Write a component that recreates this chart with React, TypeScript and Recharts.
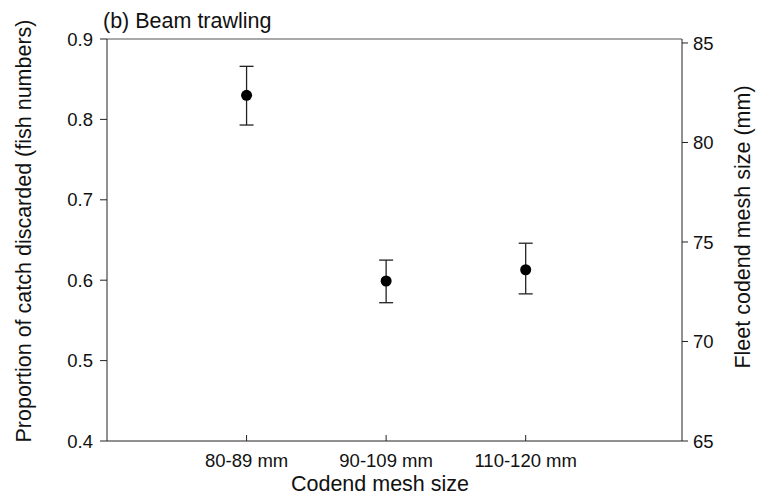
import React from 'react';
import {
  ComposedChart,
  Scatter,
  XAxis,
  YAxis,
  ErrorBar,
  ReferenceLine,
  Label,
} from 'recharts';

const categories = ['80-89 mm', '90-109 mm', '110-120 mm'];
const proportionDiscarded = [0.83, 0.599, 0.613];
const errorLow = [0.037, 0.027, 0.03];
const errorHigh = [0.036, 0.026, 0.033];
const leftTicks = [0.4, 0.5, 0.6, 0.7, 0.8, 0.9];
const rightTicks = [65, 70, 75, 80, 85];

const data = categories.map((c, i) => ({
  x: i + 1,
  name: c,
  y: proportionDiscarded[i],
  err: [errorLow[i], errorHigh[i]],
}));

const FONT = '"Liberation Sans", Arial, sans-serif';
const AXIS = '#222';

const XTick = (props: any) => {
  const { x, y, payload } = props;
  const label = categories[Math.round(payload.value) - 1] ?? '';
  return (
    <g>
      <line x1={x} x2={x} y1={y} y2={y - 6} stroke={AXIS} strokeWidth={1} />
      <text x={x} y={y + 26} textAnchor="middle" fontSize={18.5} fontFamily={FONT} fill="#111">
        {label}
      </text>
    </g>
  );
};

const Dot = (props: any) => {
  const { cx, cy } = props;
  return <circle cx={cx} cy={cy} r={5.5} fill="#000" />;
};

const LeftLabel = (p: any) => {
  const vb = p.viewBox;
  const x = vb.x + 24;
  const y = vb.y + vb.height / 2 - 9;
  return (
    <text x={x} y={y} transform={`rotate(-90 ${x} ${y})`} textAnchor="middle" dominantBaseline="central" fontSize={21.5} fontFamily={FONT} fill="#111">
      Proportion of catch discarded (fish numbers)
    </text>
  );
};

const RightLabel = (p: any) => {
  const vb = p.viewBox;
  const x = vb.x + 61;
  const y = vb.y + vb.height / 2 - 13;
  return (
    <text x={x} y={y} transform={`rotate(-90 ${x} ${y})`} textAnchor="middle" dominantBaseline="central" fontSize={21.5} fontFamily={FONT} fill="#111">
      Fleet codend mesh size (mm)
    </text>
  );
};

const BottomLabel = (p: any) => {
  const vb = p.viewBox;
  const x = vb.x + 273;
  const y = vb.y + 50;
  return (
    <text x={x} y={y} textAnchor="middle" fontSize={21.5} fontFamily={FONT} fill="#111">
      Codend mesh size
    </text>
  );
};

export default function App() {
  return (
    <div style={{ position: 'absolute', left: 0, top: 0, width: 757, height: 497, background: '#fff' }}>
      <div
        style={{
          position: 'absolute',
          left: 103,
          top: 9,
          fontFamily: FONT,
          fontSize: 21.5,
          color: '#111',
          lineHeight: '24px',
          whiteSpace: 'nowrap',
        }}
      >
        (b) Beam trawling
      </div>
      <ComposedChart
        width={757}
        height={497}
        data={data}
        margin={{ top: 39, right: 0, bottom: 0, left: 0 }}
      >
        <XAxis
          type="number"
          dataKey="x"
          domain={[0, 4.12]}
          ticks={[1, 2, 3]}
          height={56}
          tickSize={0}
          tickMargin={0}
          tickLine={false}
          tick={<XTick />}
          stroke={AXIS}
          interval={0}
        >
          <Label content={<BottomLabel />} />
        </XAxis>
        <YAxis
          yAxisId="left"
          type="number"
          domain={[0.4, 0.9]}
          ticks={leftTicks}
          width={107}
          tickSize={7}
          tickMargin={7}
          stroke={AXIS}
          tick={{ fontSize: 18.5, fontFamily: FONT, fill: '#111' }}
          tickFormatter={(v: number) => v.toFixed(1)}
        >
          <Label content={<LeftLabel />} />
        </YAxis>
        <YAxis
          yAxisId="right"
          orientation="right"
          type="number"
          domain={[65, 85.2]}
          ticks={rightTicks}
          allowDataOverflow
          width={75}
          tickSize={6}
          tickMargin={5}
          stroke={AXIS}
          tick={{ fontSize: 18.5, fontFamily: FONT, fill: '#111' }}
        >
          <Label content={<RightLabel />} />
        </YAxis>
        <ReferenceLine yAxisId="left" y={0.9} stroke="#555" strokeWidth={1} ifOverflow="visible" />
        <Scatter
          yAxisId="left"
          dataKey="y"
          shape={<Dot />}
          isAnimationActive={false}
        >
          <ErrorBar dataKey="err" direction="y" width={7} stroke="#222" strokeWidth={1.3} isAnimationActive={false} />
        </Scatter>
      </ComposedChart>
    </div>
  );
}
